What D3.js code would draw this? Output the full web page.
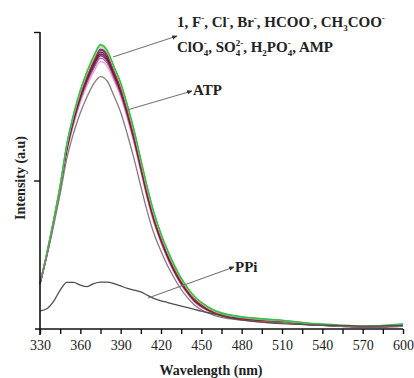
<!DOCTYPE html>
<html><head><meta charset="utf-8">
<script src="https://cdn.jsdelivr.net/npm/d3@7/dist/d3.min.js"></script>
<style>
html,body{margin:0;padding:0;background:#fff;}
svg{display:block;}
text{font-family:"Liberation Serif","Times New Roman",serif;}
</style></head>
<body>
<svg id="chart" width="414" height="378"></svg>
<script>
// ---- data ----
const wavelengths = [330,335,340,345,350,355,360,365,370,375,380,385,390,395,400,405,410,415,420,425,430,435,440,445,450,460,470,480,490,500,510,520,530,540,550,560,570,580,590,600];
const sGreen   = [155,255,365,485,625,725,805,868,920,958,938,885,830,755,670,572,475,390,322,265,215,172,138,110,90,63,49,42,37,33,30,25,20,17,14,12,10,11,14,18];
const sCyan    = [155,254,364,484,623,722,802,865,917,955,936,883,827,752,667,569,472,387,319,262,212,170,136,108,88,61,47,40,35,32,29,24,19,16,13,11,9,10,12,15];
const sYellow  = [154,253,362,482,620,719,798,860,912,950,931,878,822,747,662,564,467,382,315,258,209,167,133,105,86,59,46,39,34,31,28,23,19,15,12,10,9,9,11,14];
const sBlue    = [154,252,361,480,617,715,793,855,906,942,925,872,815,740,655,557,462,378,311,255,206,164,131,103,84,58,45,38,33,30,27,23,18,15,12,10,8,9,10,13];
const sRed     = [153,251,360,478,614,712,790,851,902,938,920,866,810,735,650,552,456,373,306,250,201,160,127,100,81,56,43,36,31,28,25,21,17,14,11,9,8,8,9,12];
const sNavy    = [153,250,358,476,611,708,786,846,896,932,914,860,805,730,645,548,452,369,303,247,198,158,125,98,79,55,42,35,30,27,25,20,16,13,11,9,8,8,9,11];
const sDarkRed = [152,249,357,474,608,704,781,841,890,926,908,856,800,726,641,544,448,366,300,244,196,156,123,96,78,54,41,34,30,27,24,20,16,13,10,9,7,8,9,11];
const sPurple  = [152,248,355,472,605,700,777,836,884,920,902,851,795,721,636,540,444,362,297,241,193,153,121,94,76,53,40,34,29,26,24,20,16,13,10,8,7,7,8,10];
const sMagenta = [151,247,353,469,601,695,771,830,877,912,895,845,790,716,631,535,440,358,294,238,190,151,119,92,75,52,39,33,29,26,23,19,15,12,10,8,7,7,8,10];
const sPink    = [150,245,350,465,595,688,763,820,866,900,884,836,782,708,624,529,435,354,290,235,188,149,117,90,73,51,38,32,28,25,23,19,15,12,10,8,7,7,8,9];
const sATP     = [150,243,345,455,575,660,728,782,826,850,835,785,730,655,572,480,392,318,262,212,170,133,104,80,65,45,35,30,26,24,22,18,14,12,10,8,7,7,8,9];
const sPPi     = [61,68,92,131,157,157,148,143,153,158,158,153,145,137,131,125,113,102,95,89,83,77,72,66,60,50,38,31,25,21,18,16,14,13,12,11,10,10,11,12];
const xTickLabels = [330,360,390,420,450,480,510,540,570,600];
const xMinorTicks = [345,375,405,435,465,495,525,555,585];
const yTicks = [500,1000];

const seriesList = [
  {name:"Pink", values:sPink, color:"#eaa0c0"},
  {name:"Magenta", values:sMagenta, color:"#c85aa8"},
  {name:"Purple", values:sPurple, color:"#6a3c8a"},
  {name:"DarkRed", values:sDarkRed, color:"#7a1e2e"},
  {name:"Navy", values:sNavy, color:"#282864"},
  {name:"Blue", values:sBlue, color:"#3246c8"},
  {name:"Red", values:sRed, color:"#c81e28"},
  {name:"Yellow", values:sYellow, color:"#e6d23c"},
  {name:"Cyan", values:sCyan, color:"#28c8d2"},
  {name:"Green", values:sGreen, color:"#3cbe3c"},
  {name:"ATP", values:sATP, color:"#8c7878"},
  {name:"PPi", values:sPPi, color:"#5a4a4a"}
];

// ---- chart ----
const svg = d3.select("#chart");
svg.append("rect").attr("width",414).attr("height",378).attr("fill","#fff");
const x = d3.scaleLinear().domain([330,600]).range([40,403]);
const y = d3.scaleLinear().domain([0,1000]).range([329,32]);

const line = d3.line().x((d,i)=>x(wavelengths[i])).y(d=>y(d)).curve(d3.curveMonotoneX);
const g = svg.append("g");
seriesList.forEach(s=>{
  g.append("path").datum(s.values).attr("d",line)
   .attr("fill","none").attr("stroke",s.color).attr("stroke-width",1.3)
   .attr("stroke-linejoin","round");
});

// x axis
const xAxis = d3.axisBottom(x).tickValues(xTickLabels.concat(xMinorTicks)).tickSize(5).tickSizeOuter(0)
  .tickFormat(d=> xTickLabels.includes(d) ? String(d) : "");
const gx = svg.append("g").attr("transform",`translate(0,${y(0)})`).call(xAxis);
gx.select(".domain").remove();
gx.selectAll(".tick line").attr("stroke","#111").attr("stroke-width",1.4);
gx.selectAll(".tick text").attr("font-size",14).attr("fill","#222").attr("dy","0.95em")
  .style("font-family","'Liberation Serif','Times New Roman',serif");
svg.append("line").attr("x1",x(330)-5).attr("x2",x(600)).attr("y1",y(0)).attr("y2",y(0))
  .attr("stroke","#111").attr("stroke-width",1.6);

// y axis
const yAxis = d3.axisLeft(y).tickValues(yTicks).tickSize(6).tickSizeOuter(0).tickFormat("");
const gy = svg.append("g").attr("transform",`translate(${x(330)},0)`).call(yAxis);
gy.select(".domain").remove();
gy.selectAll(".tick line").attr("stroke","#111").attr("stroke-width",1.4);
svg.append("line").attr("x1",x(330)).attr("x2",x(330)).attr("y1",y(1000)).attr("y2",y(0)+6)
  .attr("stroke","#111").attr("stroke-width",1.6);

// axis titles
svg.append("text").attr("x",211).attr("y",375).attr("text-anchor","middle")
  .attr("font-size",14).attr("font-weight","bold").attr("fill","#222").text("Wavelength (nm)");
svg.append("text").attr("transform","translate(25,178) rotate(-90)").attr("text-anchor","middle")
  .attr("font-size",14).attr("font-weight","bold").attr("fill","#222").text("Intensity (a.u)");

// annotations
const defs = svg.append("defs");
defs.append("marker").attr("id","arr").attr("viewBox","0 0 10 10").attr("refX",9).attr("refY",5)
  .attr("markerWidth",5).attr("markerHeight",5).attr("orient","auto")
  .append("path").attr("d","M0,1 L10,5 L0,9 z").attr("fill","#333");
function arrow(x1,y1,x2,y2){
  svg.append("line").attr("x1",x1).attr("y1",y1).attr("x2",x2).attr("y2",y2)
    .attr("stroke","#777").attr("stroke-width",1.1).attr("marker-end","url(#arr)");
}
arrow(113,57,177,36);
arrow(127,110,192,91);
arrow(148,298,234,267);

// segments: [text, kind] kind: n | sub | sup | stack (sup stacked above preceding sub)
function richText(xp, yp, segs){
  const t = svg.append("text").attr("x",xp).attr("y",yp).attr("font-size",15)
    .attr("font-weight","bold").attr("fill","#222");
  let shift = 0, lastSubW = 0, pending = 0;
  segs.forEach(s=>{
    const [txt, kind] = s;
    const target = kind==="sub" ? 4 : (kind==="sup"||kind==="stack") ? -6 : 0;
    const ts = t.append("tspan").text(txt).attr("dy", target-shift);
    if (kind!=="n") ts.attr("font-size",9);
    if (kind==="stack") {
      ts.attr("dx", -lastSubW);
      const w = ts.node().getComputedTextLength();
      pending = Math.max(0, lastSubW - w);
    } else {
      if (pending) { ts.attr("dx", pending); pending = 0; }
    }
    if (kind==="sub") lastSubW = ts.node().getComputedTextLength();
    shift = target;
  });
}
richText(177,27,[["1","n"],[", F","n"],["-","sup"],[", Cl","n"],["-","sup"],[", Br","n"],["-","sup"],
  [", HCOO","n"],["-","sup"],[", CH","n"],["3","sub"],["COO","n"],["-","sup"]]);
richText(177,52,[["ClO","n"],["4","sub"],["-","stack"],[", SO","n"],["4","sub"],["2-","stack"],
  [", H","n"],["2","sub"],["PO","n"],["4","sub"],["-","stack"],[", AMP","n"]]);
richText(193,95,[["ATP","n"]]);
richText(235,272,[["PPi","n"]]);
</script>
</body></html>
